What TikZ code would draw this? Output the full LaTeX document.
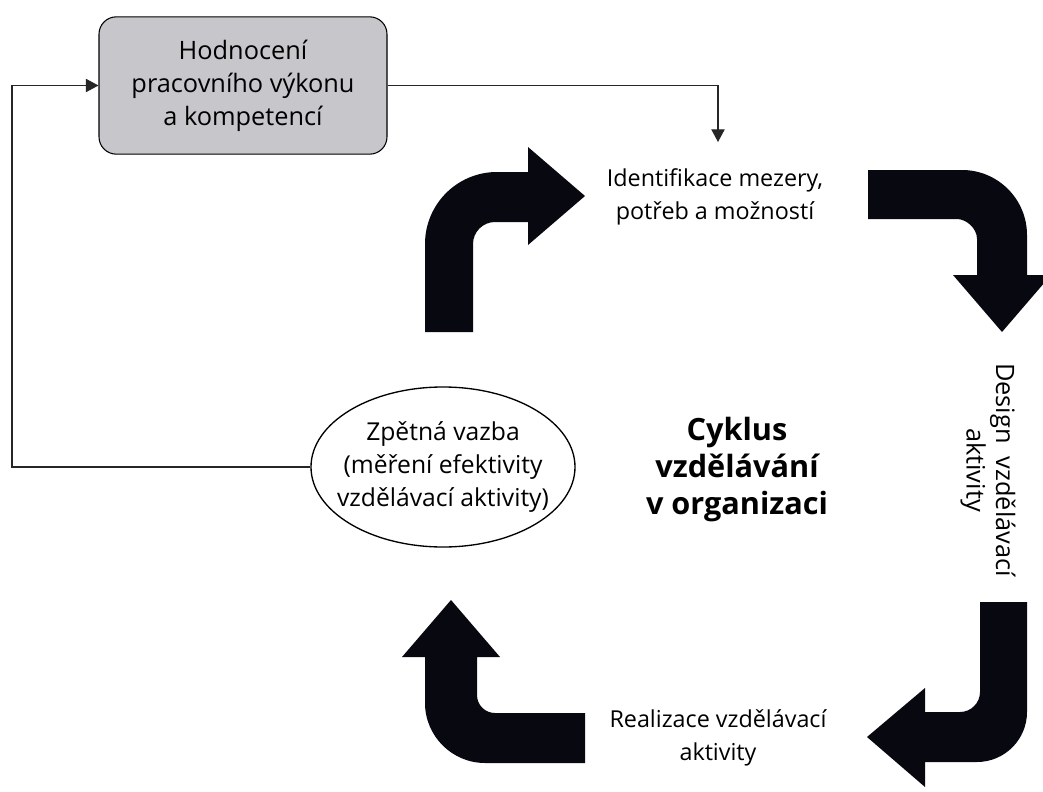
\documentclass[tikz,border=0pt]{standalone}
\usepackage{fontspec}
\setmainfont{Open Sans}
\usetikzlibrary{shapes.geometric,arrows.meta}
\definecolor{boxgray}{RGB}{198,198,203}
\definecolor{inkblack}{RGB}{8,8,16}
\begin{document}
\begin{tikzpicture}[x=0.75pt,y=-0.75pt,
  conn/.style={line width=0.8pt, draw=black!85},
  tip/.style={-{Triangle[length=9.5pt,width=10pt]}},
  bigarrow/.style={fill=inkblack},
  lbl/.style={align=center, font=\fontsize{17.5}{24.75}\selectfont, inner sep=0pt},
]
\useasboundingbox (0,0) rectangle (1043,792);
\fill[white] (0,0) rectangle (1043,792);

% nodes
\node[draw, line width=0.8pt, rounded corners=13pt, fill=boxgray,
      minimum width=216pt, minimum height=103pt, align=center,
      font=\fontsize{19}{24.75}\selectfont] (eval) at (243,85.5)
      {Hodnocení\\pracovního výkonu\\a kompetencí};

\node[ellipse, draw, line width=1pt, minimum width=198pt, minimum height=120pt,
      inner xsep=-30pt, inner ysep=-20pt, align=center,
      font=\fontsize{18.5}{24.75}\selectfont] (fb) at (443,467)
      {Zpětná vazba\\(měření efektivity\\vzdělávací aktivity)};

\node[lbl] (ident) at (715,197) {Identifikace mezery,\\potřeb a možností};
\node[lbl, font=\bfseries\fontsize{23}{27.75}\selectfont] (cyc) at (737,470) {Cyklus\\vzdělávání\\v organizaci};
\node[lbl] (real) at (718,738) {Realizace vzdělávací\\aktivity};
\node[lbl, rotate=-90, font=\fontsize{19}{22}\selectfont] (design) at (988,470) {Design\ \ vzdělávací\\aktivity};

% connectors
\coordinate (lcorner) at (12,85.5);
\draw[conn,tip] (fb.west) -| (lcorner) -- (eval.west);
\coordinate (rtip) at (718,142);
\draw[conn,tip] (eval.east) -| (rtip);

% big bent arrows
% upper left
\fill[bigarrow] (425,332) -- (425,244) .. controls (425,204.2) and (457.2,172) .. (497,172)
  -- (528,172) -- (528,147) -- (585,196) -- (528,245) -- (528,222) -- (495,222)
  .. controls (482.9,222) and (473,231.9) .. (473,244) -- (473,332) -- cycle;
% upper right
\fill[bigarrow] (868,170) -- (962,170) .. controls (997.9,170) and (1027,199.1) .. (1027,235)
  -- (1027,275) -- (1051,275) -- (1002,332) -- (953,275) -- (977,275) -- (977,239)
  .. controls (977,228) and (966,219) .. (957,219) -- (868,219) -- cycle;
% lower right
\fill[bigarrow] (980,602) -- (1027,602) -- (1027,712) .. controls (1027,739.6) and (1004.6,762) .. (977,762)
  -- (925,762) -- (925,787) -- (867,737) -- (925,688) -- (925,712) -- (960,712)
  .. controls (971,712) and (980,703) .. (980,692) -- cycle;
% lower left
\fill[bigarrow] (585,713) -- (495,713) .. controls (485,713) and (477,705) .. (477,695)
  -- (477,657) -- (500,657) -- (451,600) -- (402,657) -- (425,657) -- (425,703)
  .. controls (425,736) and (452,763) .. (485,763) -- (585,763) -- cycle;
\end{tikzpicture}
\end{document}
